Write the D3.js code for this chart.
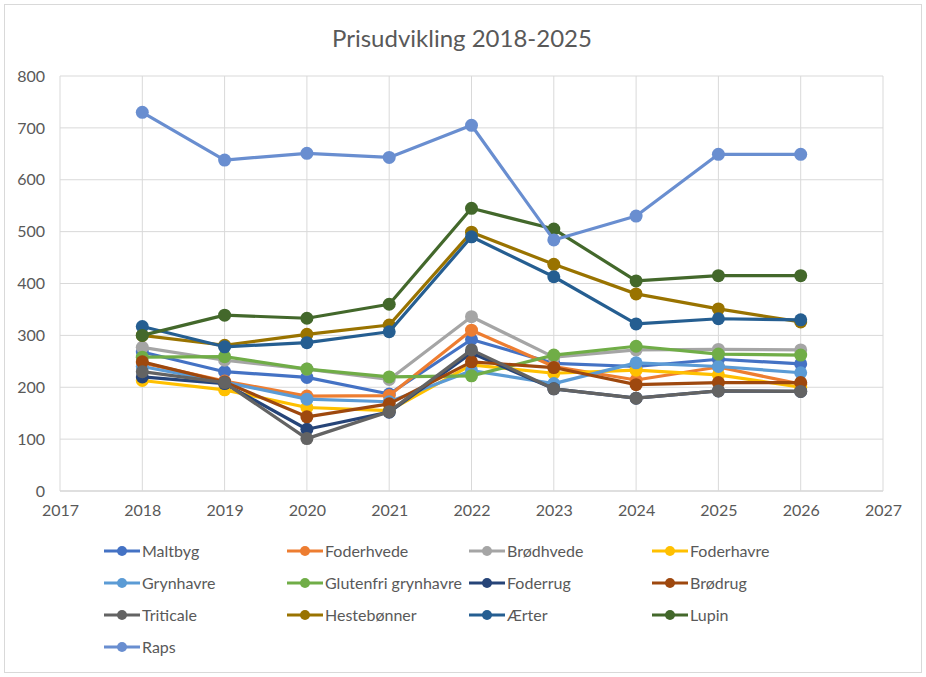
<!DOCTYPE html>
<html>
<head>
<meta charset="utf-8">
<script src="https://cdn.jsdelivr.net/npm/d3@7"></script>
<style>
  body { margin: 0; background: #fff; }
  svg text { font-family: Lato, "Open Sans", sans-serif; fill: #595959; }
</style>
</head>
<body>
<svg width="926" height="677"></svg>
<script>
// data
const years = [2018, 2019, 2020, 2021, 2022, 2023, 2024, 2025, 2026];
const xTicks = [2017, 2018, 2019, 2020, 2021, 2022, 2023, 2024, 2025, 2026, 2027];
const yTicks = [0, 100, 200, 300, 400, 500, 600, 700, 800];

const seriesNames = ["Maltbyg", "Foderhvede", "Brødhvede", "Foderhavre", "Grynhavre",
  "Glutenfri grynhavre", "Foderrug", "Brødrug", "Triticale", "Hestebønner", "Ærter", "Lupin", "Raps"];

const maltbyg     = [268, 230, 219, 187, 292, 246, 240, 254, 245];
const foderhvede  = [247, 212, 183, 184, 310, 240, 214, 239, 206];
const brodhvede   = [277, 252, 235, 215, 336, 258, 272, 273, 272];
const foderhavre  = [213, 195, 161, 155, 243, 227, 233, 224, 200];
const grynhavre   = [240, 210, 177, 172, 232, 207, 247, 240, 228];
const glutenfri   = [258, 259, 235, 220, 222, 262, 279, 264, 262];
const foderrug    = [220, 207, 119, 152, 266, 197, 179, 193, 192];
const brodrug     = [249, 210, 143, 168, 249, 238, 205, 209, 209];
const triticale   = [230, 209, 101, 153, 272, 197, 179, 193, 192];
const hestebonner = [300, 281, 302, 320, 499, 437, 380, 351, 326];
const aerter      = [317, 278, 286, 307, 490, 413, 322, 332, 330];
const lupin       = [300, 339, 333, 360, 545, 505, 405, 415, 415];
const raps        = [730, 638, 651, 643, 705, 484, 530, 649, 649];

const seriesValues = [maltbyg, foderhvede, brodhvede, foderhavre, grynhavre, glutenfri,
  foderrug, brodrug, triticale, hestebonner, aerter, lupin, raps];

const colors = ["#4472C4", "#ED7D31", "#A5A5A5", "#FFC000", "#5B9BD5", "#70AD47",
  "#264478", "#9E480E", "#636363", "#997300", "#255E91", "#43682B", "#698ED0"];

const svg = d3.select("svg");

svg.append("rect")
  .attr("x", 4.5).attr("y", 4.5)
  .attr("width", 917).attr("height", 668)
  .attr("fill", "#fff")
  .attr("stroke", "#D9D9D9");

const margin = { top: 76, left: 60 };
const width = 823, height = 415;

const x = d3.scaleLinear().domain([2017, 2027]).range([0, width]);
const y = d3.scaleLinear().domain([0, 800]).range([height, 0]);

const g = svg.append("g").attr("transform", `translate(${margin.left},${margin.top})`);

// Title
svg.append("text")
  .attr("x", 462).attr("y", 47)
  .attr("text-anchor", "middle")
  .style("font-size", "24px")
  .text("Prisudvikling 2018-2025");

// Gridlines
g.append("g")
  .selectAll("line")
  .data(yTicks)
  .join("line")
  .attr("x1", 0).attr("x2", width)
  .attr("y1", d => y(d)).attr("y2", d => y(d))
  .attr("stroke", d => d === 0 ? "#BFBFBF" : "#D9D9D9")
  .attr("stroke-width", 1);

g.append("g")
  .selectAll("line")
  .data(xTicks)
  .join("line")
  .attr("x1", d => x(d)).attr("x2", d => x(d))
  .attr("y1", 0).attr("y2", height)
  .attr("stroke", "#D9D9D9")
  .attr("stroke-width", 1);

// Axes (labels only)
const yAxis = g.append("g")
  .call(d3.axisLeft(y).tickValues(yTicks).tickSize(0).tickPadding(15));
yAxis.select(".domain").remove();
yAxis.selectAll("text").style("font-size", "16px").attr("fill", "#595959");

const xAxis = g.append("g")
  .attr("transform", `translate(0,${height})`)
  .call(d3.axisBottom(x).tickValues(xTicks).tickFormat(d3.format("d")).tickSize(0).tickPadding(14));
xAxis.select(".domain").remove();
xAxis.selectAll("text").style("font-size", "16px").attr("fill", "#595959");

// Lines and markers
const line = d3.line()
  .x((d, i) => x(years[i]))
  .y(d => y(d));

seriesValues.forEach((vals, s) => {
  const sg = g.append("g");
  sg.append("path")
    .datum(vals)
    .attr("fill", "none")
    .attr("stroke", colors[s])
    .attr("stroke-width", 3.2)
    .attr("stroke-linejoin", "round")
    .attr("d", line);
  sg.selectAll("circle")
    .data(vals)
    .join("circle")
    .attr("cx", (d, i) => x(years[i]))
    .attr("cy", d => y(d))
    .attr("r", 6.5)
    .attr("fill", colors[s]);
});

// Legend
const legendCols = [104, 287, 469, 652];
const legendRows = [551, 583, 615, 647];
seriesNames.forEach((name, i) => {
  const lx = legendCols[i % 4], ly = legendRows[Math.floor(i / 4)];
  const lg = svg.append("g").attr("transform", `translate(${lx},${ly})`);
  lg.append("line").attr("x1", 0).attr("x2", 36).attr("y1", 0).attr("y2", 0)
    .attr("stroke", colors[i]).attr("stroke-width", 3.2);
  lg.append("circle").attr("cx", 18).attr("cy", 0).attr("r", 5).attr("fill", colors[i]);
  lg.append("text").attr("x", 38).attr("y", 0).attr("dy", "0.35em")
    .style("font-size", "16px").text(name);
});
</script>
</body>
</html>
